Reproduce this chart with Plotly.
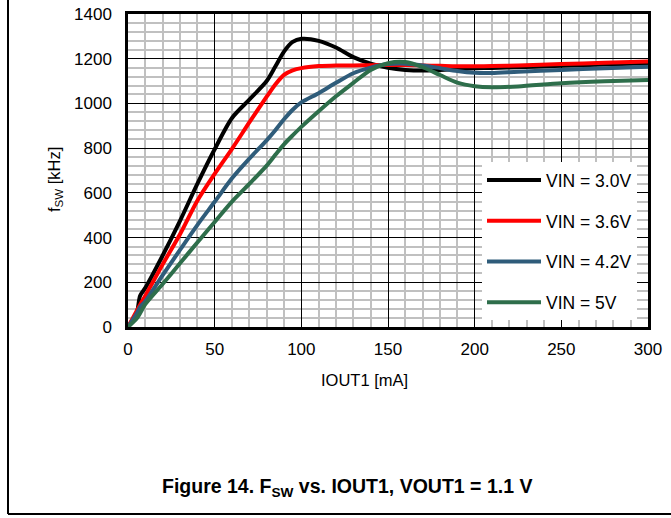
import plotly.graph_objects as go

# IOUT1 [mA]
iout = [0, 5, 7, 10, 20, 30, 40, 50, 60, 70, 80, 85, 90, 95, 100, 110, 120, 130, 140, 150,
        160, 170, 180, 190, 200, 210, 225, 250, 275, 300]

# fsw [kHz]
vin_30 = [0, 62, 140, 175, 320, 475, 640, 795, 935, 1017, 1100, 1165, 1232, 1275, 1289, 1280, 1250, 1207,
          1178, 1160, 1150, 1147, 1150, 1154, 1157, 1159, 1162, 1168, 1174, 1180]
vin_36 = [0, 72, 100, 140, 280, 415, 565, 685, 797, 915, 1030, 1085, 1128, 1148, 1158, 1167, 1170, 1170,
          1171, 1172, 1172, 1170, 1168, 1166, 1166, 1167, 1170, 1176, 1182, 1187]
vin_42 = [0, 60, 90, 115, 232, 345, 456, 560, 665, 753, 835, 880, 929, 972, 1005, 1046, 1092, 1135,
          1160, 1176, 1178, 1170, 1158, 1145, 1137, 1136, 1142, 1150, 1157, 1164]
vin_50 = [0, 38, 62, 102, 192, 285, 378, 470, 561, 640, 722, 770, 817, 857, 895, 965, 1032, 1092,
          1150, 1180, 1185, 1162, 1127, 1093, 1077, 1072, 1076, 1090, 1099, 1105]

names = ["VIN = 3.0V", "VIN = 3.6V", "VIN = 4.2V", "VIN = 5V"]
colors = ["#000000", "#FF0000", "#2F5C7A", "#2E6E4B"]
series = [vin_30, vin_36, vin_42, vin_50]

FONT = "Liberation Sans, Arial, sans-serif"

fig = go.Figure()
for i, (n, c, s) in enumerate(zip(names, colors, series)):
    fig.add_trace(go.Scatter(
        x=iout, y=s, name=n, mode="lines",
        line=dict(color=c, width=4, shape="spline", smoothing=0.8),
        legendgroup=f"g{i}",
    ))

W, H = 671, 518
L, R, T, B = 128, 23, 14, 191
pw, ph = W - L - R, H - T - B


def px_x(p):
    return (p - L) / pw


def px_y(p):
    return (H - B - p) / ph


fig.update_layout(
    width=W, height=H, autosize=False,
    margin=dict(l=L, r=R, t=T, b=B),
    paper_bgcolor="white", plot_bgcolor="white",
    font=dict(family=FONT, size=16, color="black"),
    showlegend=True,
    legend=dict(
        x=px_x(637), y=0.022, xanchor="right", yanchor="bottom",
        bgcolor="white", borderwidth=0,
        font=dict(family=FONT, size=17.5, color="black"),
        tracegroupgap=15, itemwidth=54,
    ),
    xaxis=dict(
        range=[0, 300], dtick=50, tick0=0,
        showgrid=True, gridcolor="black", gridwidth=1,
        minor=dict(dtick=10, showgrid=True, gridcolor="#C0C0C0", gridwidth=2),
        showline=True, mirror=True, linecolor="black", linewidth=2.5,
        ticks="", zeroline=False, automargin=False,
        tickfont=dict(family=FONT, size=17),
        ticklabelstandoff=5,
    ),
    yaxis=dict(
        range=[0, 1400], dtick=200, tick0=0,
        showgrid=True, gridcolor="black", gridwidth=1,
        minor=dict(dtick=40, showgrid=True, gridcolor="#C0C0C0", gridwidth=2),
        showline=True, mirror=True, linecolor="black", linewidth=2.5,
        ticks="", zeroline=False, automargin=False,
        tickfont=dict(family=FONT, size=17),
        ticklabelstandoff=10,
    ),
    annotations=[
        dict(text="IOUT1 [mA]", xref="paper", yref="paper", x=px_x(364), y=px_y(380),
             showarrow=False, xanchor="center", yanchor="middle",
             font=dict(family=FONT, size=16.5)),
        dict(text="f<sub>SW</sub> [kHz]", xref="paper", yref="paper", x=px_x(55), y=px_y(180),
             showarrow=False, xanchor="center", yanchor="middle", textangle=-90,
             font=dict(family=FONT, size=16.5)),
        dict(text="<b>Figure 14. F<sub>SW</sub> vs. IOUT1, VOUT1 = 1.1 V</b>", xref="paper", yref="paper",
             x=px_x(347), y=px_y(487), showarrow=False, xanchor="center", yanchor="middle",
             font=dict(family=FONT, size=19.5)),
    ],
    shapes=[
        dict(type="line", xref="paper", yref="paper", x0=px_x(8), x1=px_x(8), y0=px_y(514), y1=px_y(-2),
             line=dict(color="black", width=2)),
        dict(type="line", xref="paper", yref="paper", x0=px_x(8), x1=px_x(673), y0=px_y(514), y1=px_y(514),
             line=dict(color="black", width=2)),
    ],
)

fig.write_html(
    "out.html",
    config={"displayModeBar": False, "responsive": False},
    post_script="document.body.style.margin='0';document.body.style.overflow='hidden';",
)
